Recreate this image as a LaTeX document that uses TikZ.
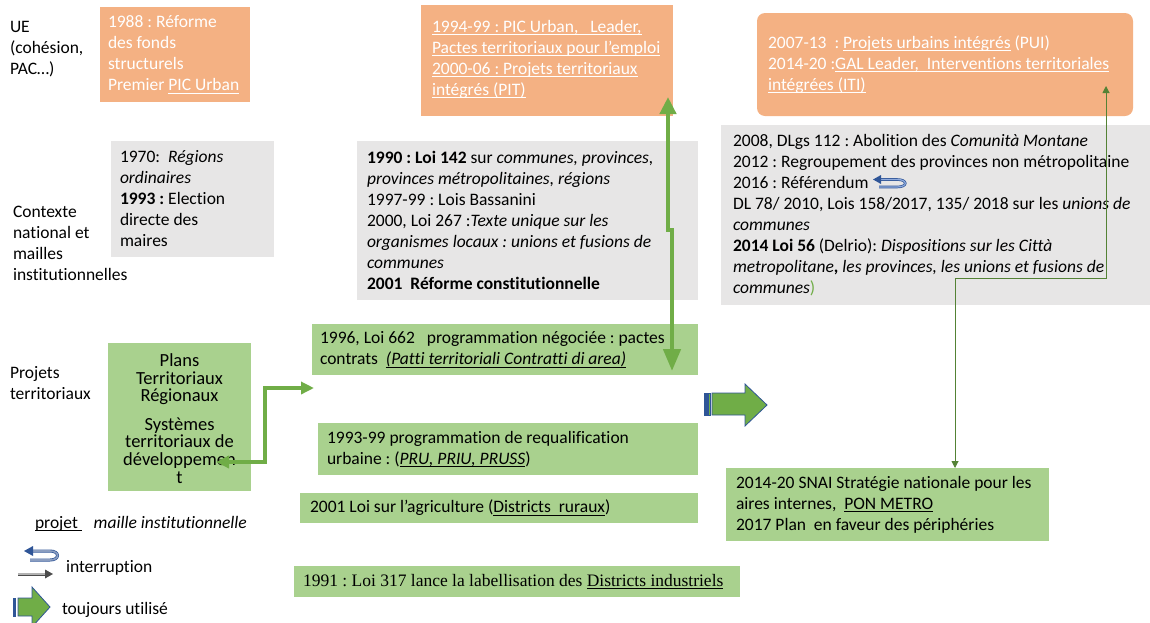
\documentclass[tikz,border=0pt]{standalone}
\usepackage{fontspec}
\setmainfont[Ligatures=NoCommon]{Carlito}
\newfontfamily\timesf{Liberation Serif}
\newcommand\uline[1]{\setbox0\hbox{#1}\rlap{\rule[-2.6pt]{\wd0}{0.7pt}}\box0\relax}
\usetikzlibrary{arrows.meta}
\definecolor{orangeb}{HTML}{F4B183}
\definecolor{greyb}{HTML}{E7E6E6}
\definecolor{greenb}{HTML}{A9D18E}
\definecolor{greena}{HTML}{70AD47}
\definecolor{greend}{HTML}{548235}
\definecolor{blueo}{HTML}{2F5597}
\definecolor{bluel}{HTML}{8FAADC}
\frenchspacing
\begin{document}
\frenchspacing
\begin{tikzpicture}[x=1pt,y=-1pt,
  box/.style={inner sep=0pt, outer sep=0pt, draw=none},
  obox/.style={box, fill=orangeb},
  gbox/.style={box, fill=greyb},
  vbox/.style={box, fill=greenb},
  txt/.style={inner sep=0pt, outer sep=0pt, align=left, anchor=west, font=\fontsize{17.5}{21}\selectfont},
  wtxt/.style={txt, text=white},
  bigarrow/.style={draw=greena, line width=4.5pt},
  thinarrow/.style={draw=greend, line width=1pt}
]
\useasboundingbox (0,0) rectangle (1150,622);

% row labels
\node[txt] (lue) at (10,49) {UE\\(cohésion,\\PAC…)};
\node[txt] (lctx) at (13,243) {Contexte\\national et\\mailles\\institutionnelles};
\node[txt] (lproj) at (10,383) {Projets\\territoriaux};

% orange boxes
\node[obox, minimum width=150pt, minimum height=95pt] (o1) at (175,54.5) {};
\node[wtxt] (o1t) at ([xshift=8pt]o1.west) {1988 : Réforme\\des fonds\\structurels\\Premier \uline{PIC Urban}};

\node[obox, minimum width=252pt, minimum height=111pt] (o2) at (547,60.5) {};
\node[wtxt] (o2t) at ([xshift=11pt,yshift=1pt]o2.west) {\uline{1994-99 : PIC Urban,\ \ \ Leader,}\\\uline{Pactes territoriaux pour l’emploi}\\\uline{2000-06 : Projets territoriaux}\\\uline{intégrés (PIT)}};

\node[obox, rounded corners=8pt, minimum width=376pt, minimum height=103pt] (o3) at (945,64.5) {};
\node[wtxt] (o3t) at ([xshift=11pt]o3.west) {2007-13\ \ : \uline{Projets urbains intégrés} (PUI)\\2014-20 :\uline{GAL Leader,\ \ Interventions territoriales}\\\uline{intégrées (ITI)}};

% grey boxes
\node[gbox, minimum width=163pt, minimum height=116pt] (g1) at (192.5,199) {};
\node[txt] (g1t) at ([xshift=9pt]g1.west) {1970:\ \ \textit{Régions}\\\textit{ordinaires}\\\textbf{1993 :} Election\\directe des\\maires};

\node[gbox, minimum width=341pt, minimum height=159pt] (g2) at (527.5,220.5) {};
\node[txt] (g2t) at ([xshift=10pt]g2.west) {\textbf{1990 : Loi 142} sur \textit{communes, provinces,}\\\textit{provinces métropolitaines, régions}\\1997-99 : Lois Bassanini\\2000, Loi 267 :\textit{Texte unique sur les}\\\textit{organismes locaux : unions et fusions de}\\\textit{communes}\\\textbf{2001\ \ Réforme constitutionnelle}};

\node[gbox, minimum width=431pt, minimum height=180pt] (g3) at (936.5,215) {};
\node[txt] (g3t) at ([xshift=12pt]g3.west) {2008, DLgs 112 : Abolition des \textit{Comunità Montane}\\2012 : Regroupement des provinces non métropolitaine\\2016 : Référendum\\DL 78/ 2010, Lois 158/2017, 135/ 2018 sur les \textit{unions de}\\\textit{communes}\\\textbf{2014 Loi 56} (Delrio): \textit{Dispositions sur les Città}\\\textit{metropolitane}\textbf{,} \textit{les provinces, les unions et fusions de}\\\textit{communes}{\color{greena})}};

% referendum swoosh icon
\draw[blueo, line width=2.6pt] (879,187) -- (897,187) .. controls (908,187) and (908,179.5) .. (897,179.5) -- (880,179.5);
\draw[bluel, line width=1.2pt] (879,187) -- (897,187) .. controls (908,187) and (908,179.5) .. (897,179.5) -- (880,179.5);
\fill[blueo] (873,179.5) -- (881,175) -- (881,184) -- cycle;

% green boxes
\node[vbox, minimum width=143pt, minimum height=148pt] (ptr) at (179.5,417) {};
\node[inner sep=0pt, align=center, font=\fontsize{18.5}{17.5}\selectfont] (ptrt) at ([yshift=-2pt]ptr.center) {Plans\\Territoriaux\\Régionaux\\[11pt]Systèmes\\territoriaux de\\développemen\\[1pt]t};

\node[vbox, minimum width=386pt, minimum height=51pt] (p96) at (505,349.5) {};
\node[txt] (p96t) at ([xshift=8pt]p96.west) {1996, Loi 662\ \ \ programmation négociée : pactes\\contrats\ \ \textit{\uline{(Patti territoriali Contratti di area)}}};

\node[vbox, minimum width=380pt, minimum height=52pt] (p93) at (508,449) {};
\node[txt] (p93t) at ([xshift=9pt]p93.west) {1993-99 programmation de requalification\\urbaine : (\textit{\uline{PRU, PRIU, PRUSS}})};

\node[vbox, minimum width=398pt, minimum height=30pt] (p01) at (499,508) {};
\node[txt] (p01t) at ([xshift=10pt]p01.west) {2001 Loi sur l’agriculture (\uline{Districts\ \ ruraux})};

\node[vbox, minimum width=446pt, minimum height=31pt] (p91) at (517,581.5) {};
\node[txt, font=\timesf\fontsize{17.5}{21}\selectfont] (p91t) at ([xshift=9pt]p91.west) {1991 : Loi 317 lance la labellisation des \uline{Districts industriels}};

\node[vbox, minimum width=323pt, minimum height=73pt] (snai) at (887.5,504.5) {};
\node[txt] (snait) at ([xshift=10pt]snai.west) {2014-20 SNAI Stratégie nationale pour les\\aires internes,\ \ \uline{PON METRO}\\2017 Plan\ \ en faveur des périphéries};

% big striped block arrow
\filldraw[fill=greena, draw=blueo, line width=0.8pt] (712,393) -- (745,393) -- (745,384) -- (767,405) -- (745,426) -- (745,415) -- (712,415) -- cycle;
\filldraw[fill=blueo, draw=blueo, line width=0.6pt] (704,393) rectangle (707,415);
\filldraw[fill=greena, draw=blueo, line width=0.6pt] (708.5,393) rectangle (710.5,415);

% connectors
\coordinate (a1) at (668,97);
\coordinate (a1m) at (668,230);
\coordinate (a2m) at (672,230);
\coordinate (a2) at (672,371);
\draw[bigarrow, {Triangle[length=17pt,width=16pt]}-{Triangle[length=22pt,width=17pt]}] (a1) -- (a1m) -- (a2m) -- (a2);

\coordinate (e1) at (216,462);
\coordinate (e2) at (314,388);
\draw[draw=greena, line width=3.5pt, {Triangle[length=13pt,width=12pt]}-{Triangle[length=13pt,width=12pt]}] (e1) -- (265,462) -- (265,388) -- (e2);

\coordinate (t1) at (1106,86);
\coordinate (t2) at (955,468);
\draw[thinarrow, {Triangle[length=7pt,width=7pt]}-{Triangle[length=7pt,width=7pt]}] (t1) -- (1106,278) -- (955,278) -- (t2);

% legend
\node[txt] (lgproj) at (35,524) {\uline{projet\ }\ \ \ \textit{maille institutionnelle}};
\draw[blueo, line width=3pt] (30,560) -- (50,560) .. controls (60,560) and (60,551) .. (50,551) -- (31,551);
\draw[bluel!70!gray, line width=1.6pt] (30,560) -- (50,560) .. controls (60,560) and (60,551) .. (50,551) -- (31,551);
\fill[blueo] (24,551) -- (33,546) -- (33,556) -- cycle;
\draw[gray!60!black, line width=3pt] (18,574) -- (46,574);
\draw[gray!60, line width=1.4pt] (18,574) -- (46,574);
\fill[gray!60!black] (53,574) -- (45,569.5) -- (45,578.5) -- cycle;
\node[txt] (lgint) at (66,568) {interruption};
\filldraw[fill=greena, draw=blueo, line width=0.8pt] (18,598) -- (32,598) -- (32,587) -- (50,607) -- (32,627) -- (32,616) -- (18,616) -- cycle;
\filldraw[fill=blueo, draw=blueo] (13,598) rectangle (15.5,616);
\node[txt] (lgtj) at (62,610) {toujours utilisé};
\end{tikzpicture}
\end{document}
